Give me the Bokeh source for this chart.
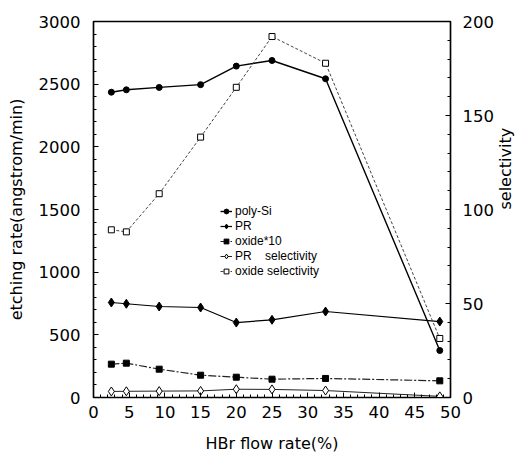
import math
from bokeh.plotting import figure
from bokeh.models import Range1d, LinearAxis, Legend, LegendItem, FixedTicker
from bokeh.embed import file_html
from bokeh.resources import INLINE

# HBr flow rate (%)
hbr = [2.5, 4.6, 9.2, 15, 20, 25, 32.5, 48.5]
# etching rates (angstrom/min)
poly_si = [2436, 2455, 2474, 2496, 2644, 2689, 2543, 375]
pr = [758, 748, 726, 718, 598, 620, 686, 606]
oxide10 = [266, 274, 226, 178, 162, 146, 152, 133]
# selectivity
pr_sel = [3.2, 3.3, 3.4, 3.5, 4.4, 4.3, 3.7, 0.6]
oxide_sel = [89.2, 88.1, 108.4, 138.5, 165, 192, 177.8, 31.4]

x_ticks = [0, 5, 10, 15, 20, 25, 30, 35, 40, 45, 50]
left_ticks = [0, 500, 1000, 1500, 2000, 2500, 3000]
right_ticks = [0, 50, 100, 150, 200]

FONT = "DejaVu Sans"

p = figure(width=527, height=457, output_backend="svg", toolbar_location=None,
           x_range=Range1d(0, 50), y_range=Range1d(0, 3000),
           min_border_left=93, min_border_right=74, min_border_top=21, min_border_bottom=60)
p.extra_y_ranges = {"sel": Range1d(0, 200)}
p.grid.visible = False
p.outline_line_color = "black"
p.outline_line_width = 1.5
p.background_fill_color = "white"
p.border_fill_color = "white"

def style_axis(ax, standoff, label_standoff):
    ax.major_label_text_font = FONT
    ax.major_label_text_font_size = "16.5px"
    ax.major_label_text_color = "black"
    ax.axis_label_text_font = FONT
    ax.axis_label_text_font_size = "16px"
    ax.axis_label_text_font_style = "normal"
    ax.axis_label_text_color = "black"
    ax.axis_line_color = "black"
    ax.axis_line_width = 1.2
    ax.major_tick_in = 5
    ax.major_tick_out = 0
    ax.minor_tick_in = 3
    ax.minor_tick_out = 0
    ax.major_label_standoff = standoff
    ax.axis_label_standoff = label_standoff

xax = p.xaxis[0]
style_axis(xax, 8, 13)
xax.ticker = FixedTicker(ticks=x_ticks, minor_ticks=list(range(0, 51)))
xax.axis_label = "HBr flow rate(%)"

yax = p.yaxis[0]
style_axis(yax, 13, 10)
yax.ticker = FixedTicker(ticks=left_ticks, minor_ticks=list(range(0, 3001, 100)))
yax.axis_label = "etching rate(angstrom/min)"

rax = LinearAxis(y_range_name="sel", axis_label="selectivity")
style_axis(rax, 12, 9)
rax.ticker = FixedTicker(ticks=right_ticks, minor_ticks=list(range(0, 201, 10)))
try:
    rax.axis_label_orientation = math.pi / 2
except Exception:
    pass
p.add_layout(rax, "right")

# series
r1 = p.line(hbr, poly_si, line_color="black", line_width=1.4)
m1 = p.scatter(hbr, poly_si, marker="circle", size=6, fill_color="black", line_color="black")
r2 = p.line(hbr, pr, line_color="black", line_width=1.2)
m2 = p.scatter(hbr, pr, marker="diamond", size=9, fill_color="black", line_color="black")
r3 = p.line(hbr, oxide10, line_color="#222222", line_width=1.2, line_dash="8 2 2 2")
m3 = p.scatter(hbr, oxide10, marker="square", size=6, fill_color="black", line_color="black")
r4 = p.line(hbr, pr_sel, line_color="#222222", line_width=1, y_range_name="sel")
m4 = p.scatter(hbr, pr_sel, marker="diamond", size=9, fill_color="white", line_color="black", y_range_name="sel")
r5 = p.line(hbr, oxide_sel, line_color="#444444", line_width=1, line_dash="3 2", y_range_name="sel")
m5 = p.scatter(hbr, oxide_sel, marker="square", size=6, fill_color="white", line_color="black", y_range_name="sel")

legend = Legend(items=[
    LegendItem(label="poly-Si", renderers=[r1, m1]),
    LegendItem(label="PR", renderers=[r2, m2]),
    LegendItem(label="oxide*10", renderers=[r3, m3]),
    LegendItem(label="PR    selectivity", renderers=[r4, m4]),
    LegendItem(label="oxide selectivity", renderers=[r5, m5]),
], location=(127, 119))
legend.label_text_font = "Liberation Sans"
legend.label_text_font_size = "12px"
legend.label_text_color = "black"
legend.glyph_width = 12
legend.glyph_height = 14
legend.label_height = 14
legend.spacing = 1
legend.padding = 0
legend.margin = 0
legend.label_standoff = 3
legend.border_line_color = None
legend.background_fill_alpha = 0
p.add_layout(legend, "center")

open("out.html", "w").write(file_html(p, INLINE))
